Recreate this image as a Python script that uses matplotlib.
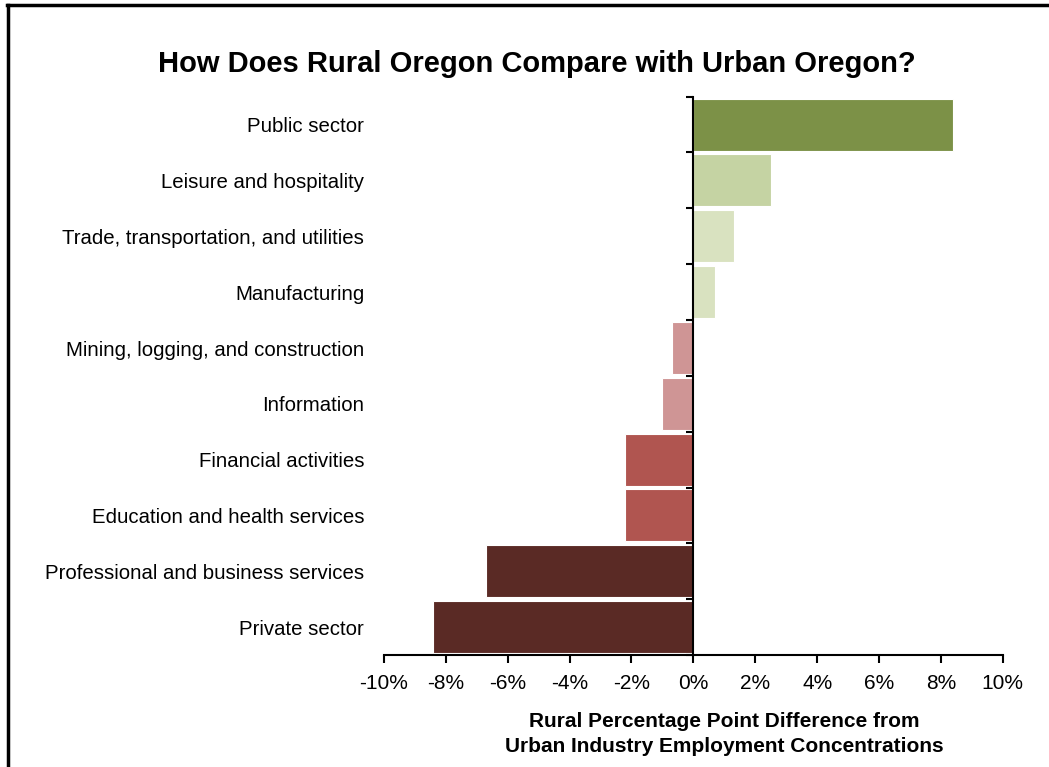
import matplotlib
matplotlib.use('Agg')
import matplotlib.pyplot as plt
from matplotlib.lines import Line2D
from matplotlib.ticker import FuncFormatter

plt.rcParams['font.family'] = ['Liberation Sans', 'DejaVu Sans']

# data (top to bottom)
industries = ['Public sector', 'Leisure and hospitality',
              'Trade, transportation, and utilities', 'Manufacturing',
              'Mining, logging, and construction', 'Information',
              'Financial activities', 'Education and health services',
              'Professional and business services', 'Private sector']
diff_pct = [8.4, 2.5, 1.3, 0.7, -0.7, -1.0, -2.2, -2.2, -6.7, -8.4]
bar_colors = ['#7c9147', '#c5d3a3', '#d9e2c0', '#d9e2c0', '#cf9595',
              '#cf9595', '#b05550', '#b05550', '#5a2a25', '#5a2a25']

fig = plt.figure(figsize=(10.49, 7.67), dpi=100)
ax = fig.add_axes([0.366, 0.146, 0.590, 0.728])

pos = list(range(len(industries)))
ax.barh(pos, diff_pct, height=0.93, color=bar_colors, edgecolor='white', linewidth=0.8)

ax.set_xlim(-10, 10)
ax.set_ylim(len(industries) - 0.5, -0.5)
ax.set_xticks(range(-10, 11, 2))
ax.xaxis.set_major_formatter(FuncFormatter(lambda v, p: f'{v:.0f}%'))
ax.tick_params(axis='x', direction='out', length=6, width=1.5, labelsize=15, pad=8)

# y axis spine sits on zero, ticks at category boundaries
ax.spines['left'].set_position(('data', 0))
ax.spines['left'].set_linewidth(1.5)
ax.spines['bottom'].set_linewidth(1.5)
ax.spines['right'].set_visible(False)
ax.spines['top'].set_visible(False)
ax.set_yticks([p - 0.5 for p in pos] + [len(industries) - 0.5])
ax.set_yticklabels([])
ax.tick_params(axis='y', direction='out', length=5, width=1.5)

trans = ax.get_yaxis_transform()
for p, name in zip(pos, industries):
    ax.text(-0.032, p + 0.04, name, transform=trans, ha='right', va='center', fontsize=14.7)

ax.set_xlabel('Rural Percentage Point Difference from\nUrban Industry Employment Concentrations',
              fontsize=15, fontweight='bold', linespacing=1.4)
ax.xaxis.set_label_coords(0.55, -0.102)
ax.xaxis.label.set_va('top')

fig.text(0.512, 0.917, 'How Does Rural Oregon Compare with Urban Oregon?',
         ha='center', va='center', fontsize=21, fontweight='bold')

# frame lines (top and left)
fig.add_artist(Line2D([0.008, 0.008], [0, 0.994], color='black', linewidth=2.5, transform=fig.transFigure))
fig.add_artist(Line2D([0.007, 1.0], [0.994, 0.994], color='black', linewidth=2.5, transform=fig.transFigure))

fig.savefig('out.png', dpi=100)
